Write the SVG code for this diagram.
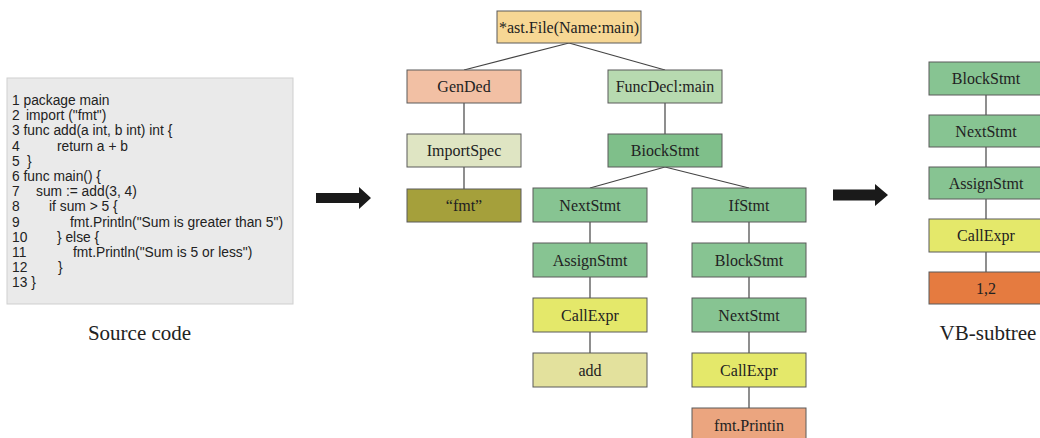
<svg xmlns="http://www.w3.org/2000/svg" width="1040" height="438" viewBox="0 0 1040 438">
<defs>
<style>
.n rect{stroke:#5a5a5a;stroke-width:1}
.n text{font-family:"Liberation Serif","Times New Roman",serif;font-size:16px;fill:#222;text-anchor:middle}
.code{font-family:"Liberation Sans",Arial,sans-serif;font-size:13.8px;fill:#222}
.cap{font-family:"Liberation Serif","Times New Roman",serif;font-size:21px;fill:#222;text-anchor:middle}
.g{fill:#87c492}
.gd{fill:#7fbf8a}
.y{fill:#e4e86a}
#edges line{stroke:#444;stroke-width:1.2}
</style>
</defs>
<rect width="1040" height="438" fill="#ffffff"/>

<g id="source">
<rect x="7" y="78" width="286" height="226" fill="#eaeaea" stroke="#cfcfcf" stroke-width="1"/>
<text class="code" x="12" y="105">1 package main</text>
<text class="code" x="12" y="120.2">2</text><text class="code" x="26" y="120.2">import ("fmt")</text>
<text class="code" x="12" y="135.4">3 func add(a int, b int) int {</text>
<text class="code" x="12" y="150.6">4</text><text class="code" x="57" y="150.6">return a + b</text>
<text class="code" x="12" y="165.8">5</text><text class="code" x="27" y="165.8">}</text>
<text class="code" x="12" y="181">6 func main() {</text>
<text class="code" x="12" y="196.2">7</text><text class="code" x="36" y="196.2">sum := add(3, 4)</text>
<text class="code" x="12" y="211.4">8</text><text class="code" x="49" y="211.4">if sum &gt; 5 {</text>
<text class="code" x="12" y="226.6">9</text><text class="code" x="70" y="226.6">fmt.Println("Sum is greater than 5")</text>
<text class="code" x="12" y="241.8">10</text><text class="code" x="57" y="241.8">} else {</text>
<text class="code" x="12" y="257">11</text><text class="code" x="73" y="257">fmt.Println("Sum is 5 or less")</text>
<text class="code" x="12" y="272.2">12</text><text class="code" x="58" y="272.2">}</text>
<text class="code" x="12" y="287.4">13 }</text>
</g>
<text class="cap" x="139.5" y="340">Source code</text>

<g id="arrows">
<polygon points="316,193 359,193 359,187 371,198 359,209 359,203 316,203" fill="#1a1a1a"/>
<polygon points="833,189.5 875,189.5 875,184 888,195 875,206 875,200.5 833,200.5" fill="#1a1a1a"/>
</g>

<g id="edges">
<line x1="569" y1="43" x2="464" y2="70"/>
<line x1="569" y1="43" x2="665" y2="70"/>
<line x1="464" y1="103" x2="464" y2="134"/>
<line x1="464" y1="167" x2="464" y2="189"/>
<line x1="665" y1="103" x2="665" y2="134"/>
<line x1="665" y1="167" x2="590" y2="188"/>
<line x1="665" y1="167" x2="749" y2="188"/>
<line x1="590" y1="222" x2="590" y2="243"/>
<line x1="590" y1="277" x2="590" y2="298"/>
<line x1="590" y1="332" x2="590" y2="353"/>
<line x1="749" y1="222" x2="749" y2="243"/>
<line x1="749" y1="277" x2="749" y2="298"/>
<line x1="749" y1="332" x2="749" y2="353"/>
<line x1="749" y1="387" x2="749" y2="408"/>
<line x1="986" y1="95" x2="986" y2="115"/>
<line x1="986" y1="147" x2="986" y2="167"/>
<line x1="986" y1="199" x2="986" y2="219"/>
<line x1="986" y1="252" x2="986" y2="272"/>
</g>

<g id="root" class="n"><rect x="497" y="11" width="144" height="32" fill="#f7d794"/><text x="569" y="32.5">*ast.File(Name:main)</text></g>
<g id="gended" class="n"><rect x="407" y="70" width="114" height="33" fill="#f2c0a4"/><text x="464" y="92">GenDed</text></g>
<g id="importspec" class="n"><rect x="407" y="134" width="114" height="33" fill="#dfe5c3"/><text x="464" y="156">ImportSpec</text></g>
<g id="fmt" class="n"><rect x="407" y="189" width="114" height="33" fill="#a5a03b"/><text x="464" y="211">“fmt”</text></g>
<g id="funcdecl" class="n"><rect x="608" y="70" width="114" height="33" fill="#b7dab0"/><text x="665" y="92">FuncDecl:main</text></g>
<g id="biockstmt" class="n"><rect x="608" y="134" width="114" height="33" class="gd"/><text x="665" y="156">BiockStmt</text></g>
<g id="nextstmt1" class="n"><rect x="533" y="188" width="114" height="34" class="g"/><text x="590" y="210.5">NextStmt</text></g>
<g id="assignstmt1" class="n"><rect x="533" y="243" width="114" height="34" class="g"/><text x="590" y="265.5">AssignStmt</text></g>
<g id="callexpr1" class="n"><rect x="533" y="298" width="114" height="34" class="y"/><text x="590" y="320.5">CallExpr</text></g>
<g id="add" class="n"><rect x="533" y="353" width="114" height="34" fill="#e3e19d"/><text x="590" y="375.5">add</text></g>
<g id="ifstmt" class="n"><rect x="692" y="188" width="114" height="34" class="g"/><text x="749" y="210.5">IfStmt</text></g>
<g id="blockstmt2" class="n"><rect x="692" y="243" width="114" height="34" class="g"/><text x="749" y="265.5">BlockStmt</text></g>
<g id="nextstmt2" class="n"><rect x="692" y="298" width="114" height="34" class="g"/><text x="749" y="320.5">NextStmt</text></g>
<g id="callexpr2" class="n"><rect x="692" y="353" width="114" height="34" class="y"/><text x="749" y="375.5">CallExpr</text></g>
<g id="fmtprintin" class="n"><rect x="692" y="408" width="114" height="40" fill="#eba57f"/><text x="749" y="430.5">fmt.Printin</text></g>

<g id="vb-blockstmt" class="n"><rect x="929" y="62" width="114" height="33" class="g"/><text x="986" y="84">BlockStmt</text></g>
<g id="vb-nextstmt" class="n"><rect x="929" y="115" width="114" height="32" class="g"/><text x="986" y="136.5">NextStmt</text></g>
<g id="vb-assignstmt" class="n"><rect x="929" y="167" width="114" height="32" class="g"/><text x="986" y="188.5">AssignStmt</text></g>
<g id="vb-callexpr" class="n"><rect x="929" y="219" width="114" height="33" class="y"/><text x="986" y="241">CallExpr</text></g>
<g id="vb-12" class="n"><rect x="929" y="272" width="114" height="32" fill="#e57b40"/><text x="986" y="293.5">1,2</text></g>
<text class="cap" x="988" y="340">VB-subtree</text>
</svg>
